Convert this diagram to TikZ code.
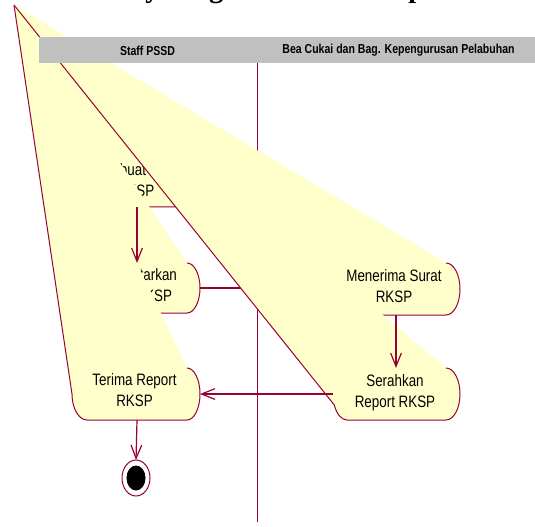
\documentclass[tikz,border=0pt]{standalone}
\usepackage{fontspec}
\usepackage{tikz}
\usetikzlibrary{arrows.meta}
\newfontfamily\actfont[FakeStretch=0.81]{Liberation Sans}
\newfontfamily\titlefont{Liberation Serif}
\definecolor{roseline}{RGB}{153,0,51}
\definecolor{rosefill}{RGB}{255,255,204}
\definecolor{laneband}{RGB}{192,192,192}

\begin{document}
\begin{tikzpicture}[x=0.75pt,y=-0.75pt,
	actfill/.style={fill=rosefill},
	actline/.style={draw=roseline,line width=0.75pt},
	acttext/.style={font=\actfont\fontsize{12.4pt}{15.75pt}\selectfont,align=center,inner sep=0pt},
	lanetext/.style={font=\actfont\bfseries\fontsize{9.75pt}{11pt}\selectfont,inner sep=0pt},
	flow/.style={draw=roseline,line width=0.9pt,-{Straight Barb[length=10pt,width=8pt]}}]
	\useasboundingbox (0,0) rectangle (535,527);

	\draw (63,-2.5) node [anchor=base west,inner sep=0pt,font=\titlefont\bfseries\fontsize{21.3pt}{24pt}\selectfont] (title) {Activity Diagram Terima Report};

	\coordinate (apex) at (14,5);
	\coordinate (membuat-b) at (137,207);
	\coordinate (daftarkan-t) at (137,263);
	\coordinate (daftarkan-r) at (200,288);
	\coordinate (menerima-l) at (332,288);
	\coordinate (menerima-b) at (396,315);
	\coordinate (serahkan-t) at (396,368);
	\coordinate (serahkan-l) at (333,394);
	\coordinate (terima-r) at (200,394);
	\coordinate (terima-b) at (137,420);
	\coordinate (final) at (136,478);
	\coordinate (final-t) at (136,460);

	\draw [roseline,line width=0.75pt] (257,63.5) -- (257,522);

	% activities
	\fill [actfill] (apex) -- (187,157) arc [start angle=-90,end angle=90,x radius=13,y radius=25] -- (87,207) -- cycle;
	\draw [actline] (187,157) arc [start angle=-90,end angle=90,x radius=13,y radius=25] -- (87,207);
	\draw (136,180) node [acttext] (membuat) {Membuat Surat\\RKSP};

	\fill [actfill] (apex) -- (187,263) arc [start angle=-90,end angle=90,x radius=13,y radius=25] -- (87,313) -- cycle;
	\draw [actline] (187,263) arc [start angle=-90,end angle=90,x radius=13,y radius=25] -- (87,313);
	\draw (136,285.5) node [acttext] (daftarkan) {Mendaftarkan\\Surat RKSP};

	\draw [flow] (daftarkan-r) -- (menerima-l);

	\fill [actfill] (apex) -- (446,263) arc [start angle=-90,end angle=90,x radius=14,y radius=26] -- (347,315) -- cycle;
	\draw [actline] (446,263) arc [start angle=-90,end angle=90,x radius=14,y radius=26] -- (347,315);
	\draw (394,286.5) node [acttext] (menerima) {Menerima Surat\\RKSP};

	\fill [actfill] (apex) -- (446,368) arc [start angle=-90,end angle=90,x radius=14,y radius=26] -- (347,420) arc [start angle=90,end angle=155,x radius=14,y radius=26] -- cycle;
	\draw [actline] (446,368) arc [start angle=-90,end angle=90,x radius=14,y radius=26] -- (347,420) arc [start angle=90,end angle=155,x radius=14,y radius=26] -- (apex);
	\draw (395,393) node [acttext] (serahkan) {Serahkan\\Report RKSP};

	\fill [actfill] (apex) -- (187,368) arc [start angle=-90,end angle=90,x radius=13,y radius=26] -- (87,420) arc [start angle=90,end angle=180,x radius=15,y radius=26] -- cycle;
	\draw [actline] (187,368) arc [start angle=-90,end angle=90,x radius=13,y radius=26] -- (87,420) arc [start angle=90,end angle=180,x radius=15,y radius=26] -- (apex);
	\draw (134.5,390.5) node [acttext] (terima) {Terima Report\\RKSP};

	% swimlane header
	\fill [laneband] (39,37.5) rectangle (535,63.5);
	\draw (147.5,50.5) node [lanetext] (staff) {Staff PSSD};
	\draw (398.5,50.5) node [lanetext] (beacukai) {Bea Cukai dan Bag. Kepengurusan Pelabuhan};

	\draw [flow] (membuat-b) -- (daftarkan-t);
	\draw [flow] (menerima-b) -- (serahkan-t);
	\draw [flow] (serahkan-l) -- (terima-r);
	\draw [flow] (terima-b) -- (final-t);

	\draw [roseline,line width=0.75pt] (final) ellipse [x radius=14,y radius=18];
	\fill (final) ellipse [x radius=9.5,y radius=12.5];
\end{tikzpicture}
\end{document}
